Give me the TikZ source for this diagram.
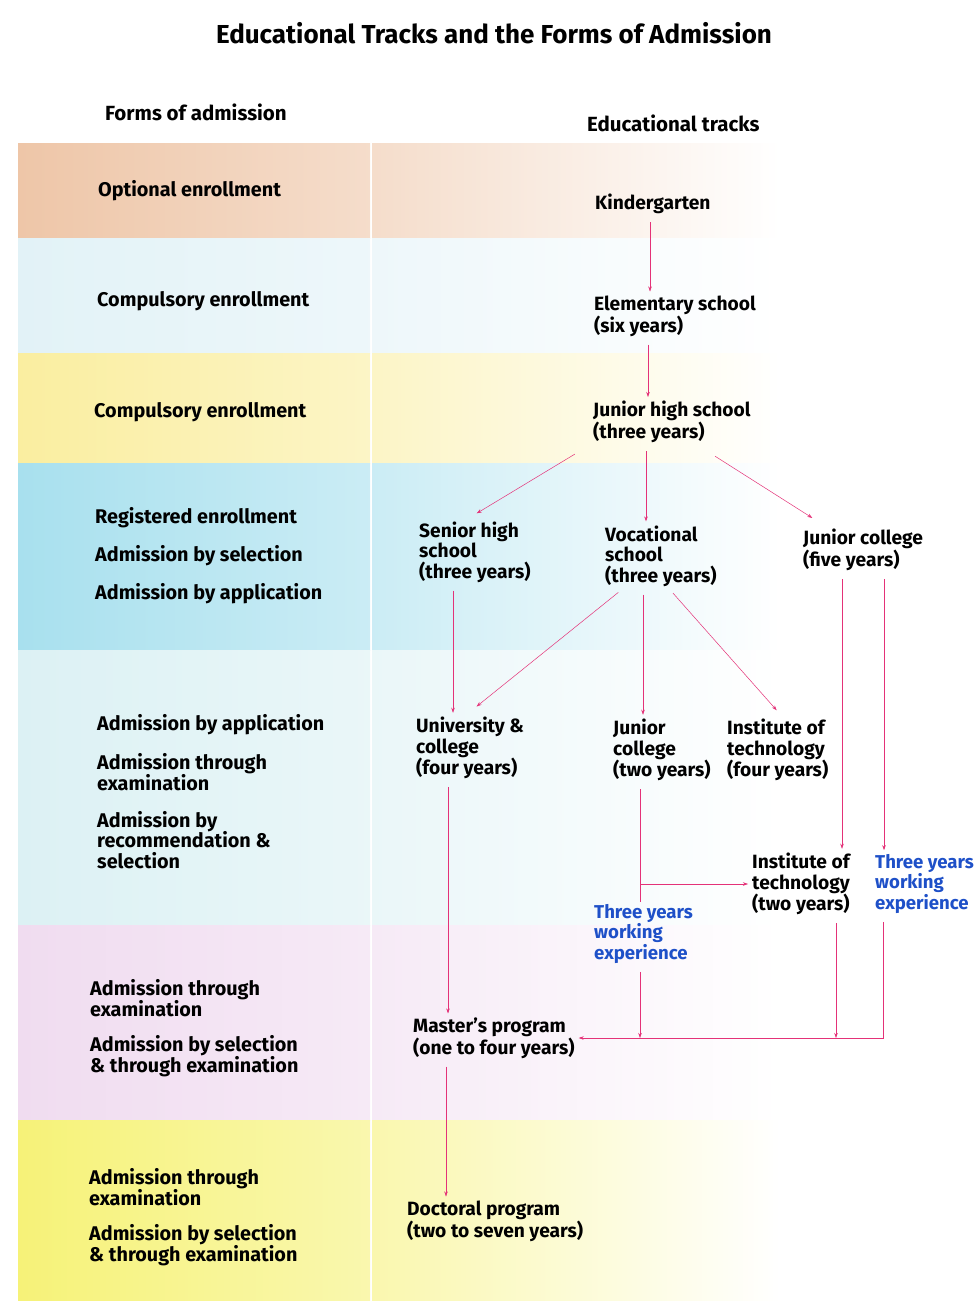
\documentclass[tikz,border=0pt]{standalone}
\usepackage{fontspec}
\setmainfont{Fira Sans}
\usetikzlibrary{arrows.meta}
\definecolor{peach}{RGB}{238,198,168}
\definecolor{paleblue}{RGB}{226,242,247}
\definecolor{lemon}{RGB}{250,238,160}
\definecolor{aqua}{RGB}{168,224,238}
\definecolor{mint}{RGB}{220,241,244}
\definecolor{lilac}{RGB}{240,220,240}
\definecolor{canary}{RGB}{246,242,120}
\definecolor{linkred}{RGB}{228,50,120}
\definecolor{workblue}{RGB}{30,80,200}
\tikzset{
  form/.style={anchor=west, align=left, inner sep=2pt, font=\fontsize{19.8}{20.5}\selectfont\bfseries},
  track/.style={form, font=\fontsize{19.2}{20.5}\selectfont\bfseries},
  work/.style={form, font=\fontsize{18.6}{20.5}\selectfont\bfseries, text=workblue},
  link/.style={draw=linkred, line width=0.5pt, -{Stealth[length=5pt,width=3.5pt]}, shorten >=2pt, shorten <=6pt},
  plain/.style={draw=linkred, line width=0.5pt, shorten <=6pt}
}
\begin{document}
\begin{tikzpicture}[x=1pt, y=-1pt]
    \useasboundingbox (0,0) rectangle (977,1301);
    % colour bands, fading to the right
    \foreach \top/\bot/\col in {143/238/peach, 238/353/paleblue, 353/463/lemon, 463/650/aqua, 650/925/mint, 925/1120/lilac, 1120/1301/canary} {
        \shade[left color=\col, right color=\col!60!white] (18,\top) rectangle (370,\bot);
        \shade[left color=\col!60!white, right color=white] (372,\top) rectangle (780,\bot);
    }
    \node[font=\fontsize{26}{30}\selectfont\bfseries] (title) at (494,33) {Educational Tracks and the Forms of Admission};
    \node[form, font=\fontsize{20.5}{24}\selectfont\bfseries] (hforms) at (103,112) {Forms of admission};
    \node[form, font=\fontsize{20.5}{24}\selectfont\bfseries] (htracks) at (585,123) {Educational tracks};
    % forms of admission
    \node[form] (f1) at (96,191) {Optional enrollment};
    \node[form] (f2) at (95,301) {Compulsory enrollment};
    \node[form] (f3) at (92,412) {Compulsory enrollment};
    \node[form] (f4a) at (93,518) {Registered enrollment};
    \node[form] (f4b) at (93,556) {Admission by selection};
    \node[form] (f4c) at (93,594) {Admission by application};
    \node[form] (f5a) at (95,725) {Admission by application};
    \node[form] (f5b) at (95,772) {Admission through\\examination};
    \node[form] (f5c) at (95,840) {Admission by\\recommendation \&\\selection};
    \node[form] (f6a) at (88,998) {Admission through\\examination};
    \node[form] (f6b) at (88,1056) {Admission by selection\\\& through examination};
    \node[form] (f7a) at (87,1187) {Admission through\\examination};
    \node[form] (f7b) at (87,1245) {Admission by selection\\\& through examination};
    % educational tracks
    \node[track] (kg) at (593,204) {Kindergarten};
    \node[track] (elem) at (592,316) {Elementary school\\(six years)};
    \node[track] (jhs) at (591,422) {Junior high school\\(three years)};
    \node[track] (shs) at (417,552) {Senior high\\school\\(three years)};
    \node[track] (voc) at (603,556) {Vocational\\school\\(three years)};
    \node[track] (jc5) at (801,550) {Junior college\\(five years)};
    \node[track] (univ) at (414,748) {University \&\\college\\(four years)};
    \node[track] (jc2) at (611,750) {Junior\\college\\(two years)};
    \node[track] (it4) at (725,750) {Institute of\\technology\\(four years)};
    \node[track] (it2) at (750,884) {Institute of\\technology\\(two years)};
    \node[work] (wexp2) at (873,884) {Three years\\working\\experience};
    \node[work] (wexp1) at (592,934) {Three years\\working\\experience};
    \node[track] (master) at (411,1038) {Master's program\\(one to four years)};
    \node[track] (doct) at (405,1221) {Doctoral program\\(two to seven years)};
    % connectors
    \draw[link] ([xshift=57]kg.south west) -- ([xshift=57]kg.south west |- elem.north);
    \draw[link] ([xshift=56]elem.south west) -- ([xshift=56]elem.south west |- jhs.north);
    \draw[link] ([xshift=-11,yshift=-6]jhs.south west) -- ([xshift=58,yshift=5]shs.north west);
    \draw[link] ([xshift=55]jhs.south west) -- ([xshift=55]jhs.south west |- voc.north);
    \draw[link] ([xshift=119,yshift=-8]jhs.south west) -- ([xshift=13,yshift=8]jc5.north west);
    \draw[link] ([xshift=36]shs.south west) -- ([xshift=36]shs.south west |- univ.north);
    \draw[link] ([xshift=20]voc.south west) -- ([xshift=61,yshift=7]univ.north west);
    \draw[link] ([xshift=40]voc.south west) -- ([xshift=40]voc.south west |- jc2.north);
    \draw[link] ([xshift=66]voc.south west) -- ([xshift=53,yshift=5]it4.north west);
    \draw[link] ([xshift=41]jc5.south west) -- ([xshift=41]jc5.south west |- it2.north);
    \draw[link] ([xshift=83]jc5.south west) -- ([xshift=83]jc5.south west |- wexp2.north);
    \draw[plain] ([xshift=29]jc2.south west) -- ([xshift=29]jc2.south west |- wexp1.north);
    \draw[link, shorten <=0pt] ([xshift=29]jc2.south west |- it2.west) -- (it2.west);
    \draw[link, shorten >=0pt] ([xshift=48]wexp1.south west) -- ([xshift=48]wexp1.south west |- master.east);
    \draw[link, shorten >=0pt] ([xshift=86]it2.south west) -- ([xshift=86]it2.south west |- master.east);
    \draw[link] ([xshift=10]wexp2.south west) |- (master.east);
    \draw[link] ([xshift=34]univ.south west) -- ([xshift=34]univ.south west |- master.north);
    \draw[link] ([xshift=35]master.south west) -- ([xshift=35]master.south west |- doct.north);
\end{tikzpicture}
\end{document}
